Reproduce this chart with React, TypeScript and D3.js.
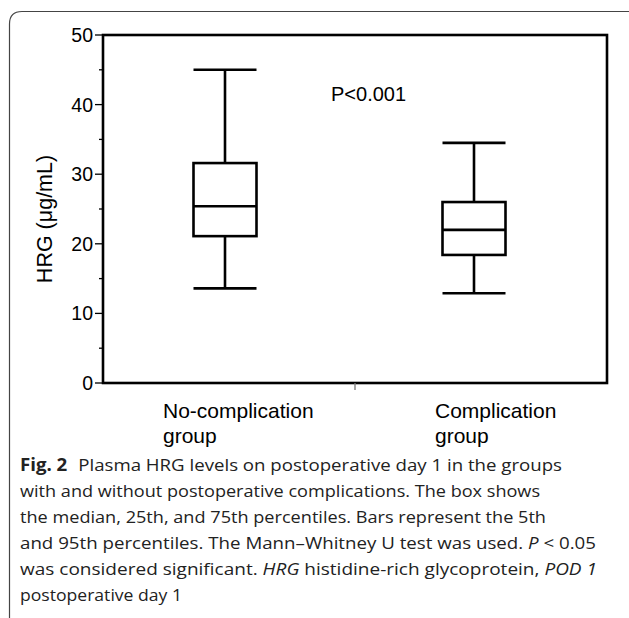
import React from "react";
import * as d3 from "d3";

const categories = ["No-complication group", "Complication group"];
const labelLines = [["No-complication", "group"], ["Complication", "group"]];
const whiskerLow = [13.6, 12.9];
const q1 = [21.1, 18.4];
const median = [25.4, 22.0];
const q3 = [31.6, 26.0];
const whiskerHigh = [45.0, 34.5];
const majorTicks = [0, 10, 20, 30, 40, 50];
const minorTicks = [5, 15, 25, 35, 45];
const yLabel = "HRG (μg/mL)";
const pText = "P<0.001";
const captionLines = [
  "Plasma HRG levels on postoperative day 1 in the groups",
  "with and without postoperative complications. The box shows",
  "the median, 25th, and 75th percentiles. Bars represent the 5th",
  "and 95th percentiles. The Mann–Whitney U test was used.",
  "was considered significant.",
  "postoperative day 1",
];

export default function App() {
  const W = 629, H = 618;
  const left = 103, right = 607, top = 35, bottom = 383;
  const y = d3.scaleLinear().domain([0, 50]).range([bottom, top]);
  const x = d3.scalePoint<string>().domain(categories).range([left + 122, right - 133]);
  const boxW = 63;
  const font = "Liberation Sans, Arial, sans-serif";
  const capFont = "'Open Sans', 'Noto Sans', sans-serif";
  const sw = 2.6;
  const capX = 20;
  const capY0 = 471;
  const lh = 26;
  const capFs = 17;
  return (
    <svg width={W} height={H} style={{ position: "absolute", left: 0, top: 0, background: "#fff" }}>
      <rect x={0} y={0} width={W} height={H} fill="#fff" />
      {/* outer frame */}
      <path d={`M9.5,${H + 5} L9.5,24 Q9.5,11.5 22,11.5 L${W + 5},11.5`} fill="none" stroke="#444" strokeWidth={1.2} />
      {/* plot frame */}
      <rect x={left} y={top} width={right - left} height={bottom - top} fill="none" stroke="#000" strokeWidth={sw} />
      {/* y ticks */}
      {majorTicks.map((t) => (
        <g key={"M" + t}>
          <line x1={left - 8} x2={left} y1={y(t)} y2={y(t)} stroke="#000" strokeWidth={1.3} />
          <text x={left - 10} y={y(t)} dy="0.36em" textAnchor="end" fontFamily={font} fontSize={19.5} fill="#000">{t}</text>
        </g>
      ))}
      {minorTicks.map((t) => (
        <line key={"m" + t} x1={left - 4} x2={left} y1={y(t)} y2={y(t)} stroke="#000" strokeWidth={1.3} />
      ))}
      {/* x middle tick */}
      <line x1={(left + right) / 2} x2={(left + right) / 2} y1={bottom} y2={bottom + 7} stroke="#777" strokeWidth={1.3} />
      {/* y label */}
      <text transform={`translate(52,219) rotate(-90)`} textAnchor="middle" fontFamily={font} fontSize={21.5} fill="#000">{yLabel}</text>
      {/* P value */}
      <text x={331} y={101} fontFamily={font} fontSize={20} fill="#000">{pText}</text>
      {/* boxes */}
      {categories.map((c, i) => {
        const cx = x(c) as number;
        return (
          <g key={c} stroke="#000" strokeWidth={sw} fill="none">
            <line x1={cx} x2={cx} y1={y(whiskerHigh[i])} y2={y(q3[i])} />
            <line x1={cx} x2={cx} y1={y(q1[i])} y2={y(whiskerLow[i])} />
            <line x1={cx - boxW / 2} x2={cx + boxW / 2} y1={y(whiskerHigh[i])} y2={y(whiskerHigh[i])} />
            <line x1={cx - boxW / 2} x2={cx + boxW / 2} y1={y(whiskerLow[i])} y2={y(whiskerLow[i])} />
            <rect x={cx - boxW / 2} y={y(q3[i])} width={boxW} height={y(q1[i]) - y(q3[i])} />
            <line x1={cx - boxW / 2} x2={cx + boxW / 2} y1={y(median[i])} y2={y(median[i])} />
          </g>
        );
      })}
      {/* x labels */}
      {categories.map((c, i) => {
        const cx = x(c) as number;
        const lx = i === 0 ? cx - 62 : cx - 39;
        return labelLines[i].map((l, j) => (
          <text key={c + j} x={lx} y={418 + j * 25} fontFamily={font} fontSize={21} fill="#000">{l}</text>
        ));
      })}
      {/* caption */}
      <text x={capX} y={capY0} fontFamily={capFont} fontSize={capFs} fill="#222" textLength={542} lengthAdjust="spacingAndGlyphs">
        <tspan fontWeight="bold">Fig. 2</tspan>
        <tspan dx={10}>{captionLines[0]}</tspan>
      </text>
      <text x={capX} y={capY0 + lh} fontFamily={capFont} fontSize={capFs} fill="#222" textLength={520} lengthAdjust="spacingAndGlyphs">{captionLines[1]}</text>
      <text x={capX} y={capY0 + 2 * lh} fontFamily={capFont} fontSize={capFs} fill="#222" textLength={526} lengthAdjust="spacingAndGlyphs">{captionLines[2]}</text>
      <text x={capX} y={capY0 + 3 * lh} fontFamily={capFont} fontSize={capFs} fill="#222" textLength={576} lengthAdjust="spacingAndGlyphs">
        {captionLines[3] + " "}<tspan fontStyle="italic">P</tspan>{" < 0.05"}
      </text>
      <text x={capX} y={capY0 + 4 * lh} fontFamily={capFont} fontSize={capFs} fill="#222" textLength={577} lengthAdjust="spacingAndGlyphs">
        {captionLines[4] + " "}<tspan fontStyle="italic">HRG</tspan>{" histidine-rich glycoprotein, "}<tspan fontStyle="italic">POD 1</tspan>
      </text>
      <text x={capX} y={capY0 + 5 * lh} fontFamily={capFont} fontSize={capFs} fill="#222" textLength={162} lengthAdjust="spacingAndGlyphs">{captionLines[5]}</text>
    </svg>
  );
}
